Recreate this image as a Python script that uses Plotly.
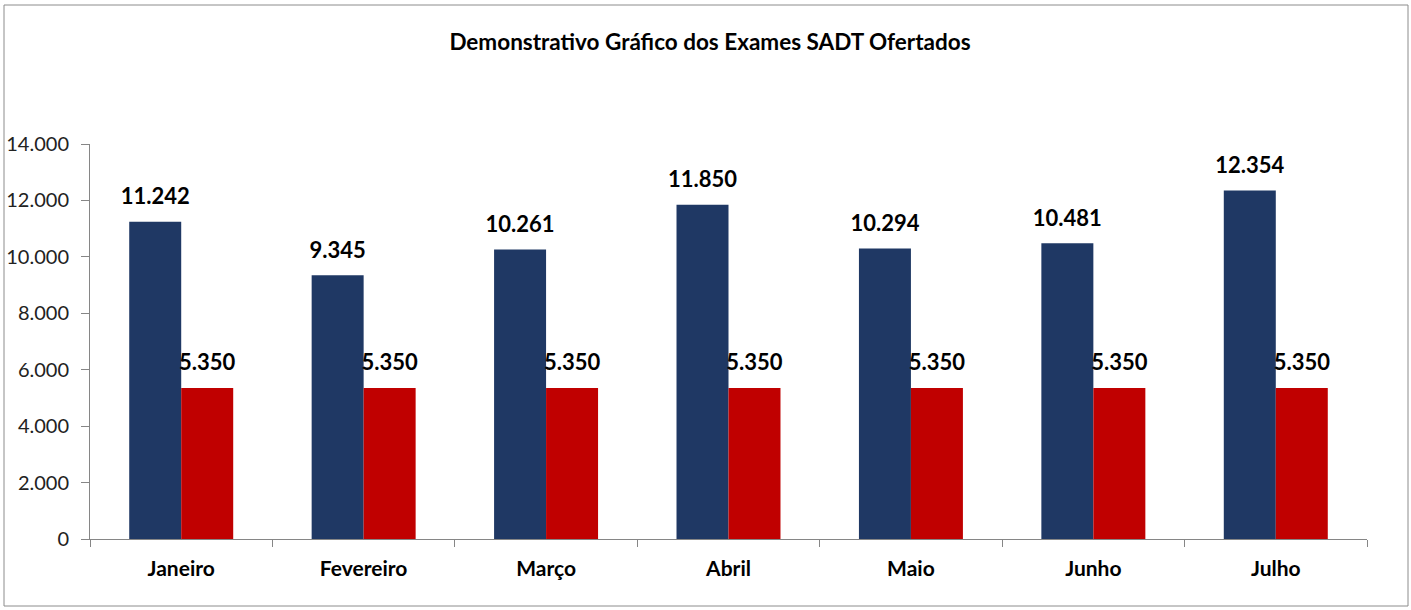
import plotly.graph_objects as go

months = ["Janeiro", "Fevereiro", "Março", "Abril", "Maio", "Junho", "Julho"]
ofertados = [11242, 9345, 10261, 11850, 10294, 10481, 12354]
meta = [5350, 5350, 5350, 5350, 5350, 5350, 5350]
y_ticks = [0, 2000, 4000, 6000, 8000, 10000, 12000, 14000]

W, H = 1411, 610
ML, MR, MT, MB = 90, 44, 144, 71
PW, PH = W - ML - MR, H - MT - MB

FONT = "Lato, Liberation Sans, sans-serif"
label_font = dict(family=FONT, size=22, color="#000000", weight="bold")

fig = go.Figure()
series = [("Ofertados", ofertados, "#1F3864", "g1"), ("Meta", meta, "#C00000", "g2")]
for name, vals, color, grp in series:
    fig.add_trace(go.Bar(
        x=months, y=vals, name=name, offsetgroup=grp,
        marker=dict(color=color, line=dict(width=0)),
    ))
for name, vals, color, grp in series:
    fig.add_trace(go.Scatter(
        x=months, y=vals, name=name + " rótulo", offsetgroup=grp,
        mode="markers+text", marker=dict(size=18, opacity=0),
        text=[f"{v:,}".replace(",", ".") for v in vals],
        textposition="top center", textfont=label_font,
        cliponaxis=False, hoverinfo="skip",
    ))

fig.update_layout(
    width=W, height=H,
    margin=dict(l=ML, r=MR, t=MT, b=MB),
    paper_bgcolor="white", plot_bgcolor="white",
    barmode="group", bargap=0.43, bargroupgap=0,
    scattermode="group", scattergap=0.43,
    separators=",.",
    showlegend=False,
    title=dict(
        text="<b>Demonstrativo Gráfico dos Exames SADT Ofertados</b>",
        x=710 / W, xanchor="center", xref="container",
        y=1 - 42 / H, yanchor="middle", yref="container",
        font=dict(family=FONT, size=22.5, color="#000000"),
    ),
    xaxis=dict(
        showline=True, linecolor="#868686", linewidth=1,
        ticks="outside", tickson="boundaries", ticklen=7, tickcolor="#868686",
        tickfont=dict(family=FONT, size=21, color="#000000", weight="bold"),
        showgrid=False, ticklabelstandoff=11, automargin=False,
    ),
    yaxis=dict(
        range=[0, 14000], tickvals=y_ticks, tickformat=",d",
        showline=True, linecolor="#868686", linewidth=1,
        ticks="outside", ticklen=8, tickcolor="#868686",
        tickfont=dict(family=FONT, size=20, color="#222222"),
        showgrid=False, zeroline=False, ticklabelstandoff=8, automargin=False,
    ),
    shapes=[dict(
        type="rect", xref="paper", yref="paper",
        x0=(4 - ML) / PW, x1=(1408 - ML) / PW,
        y0=(H - MB - 606) / PH, y1=(H - MB - 5) / PH,
        line=dict(color="#8C8C8C", width=1), fillcolor="rgba(0,0,0,0)",
        layer="below",
    )],
)

fig.write_html("out.html", config={"displayModeBar": False},
               post_script="document.body.style.margin='0';")
